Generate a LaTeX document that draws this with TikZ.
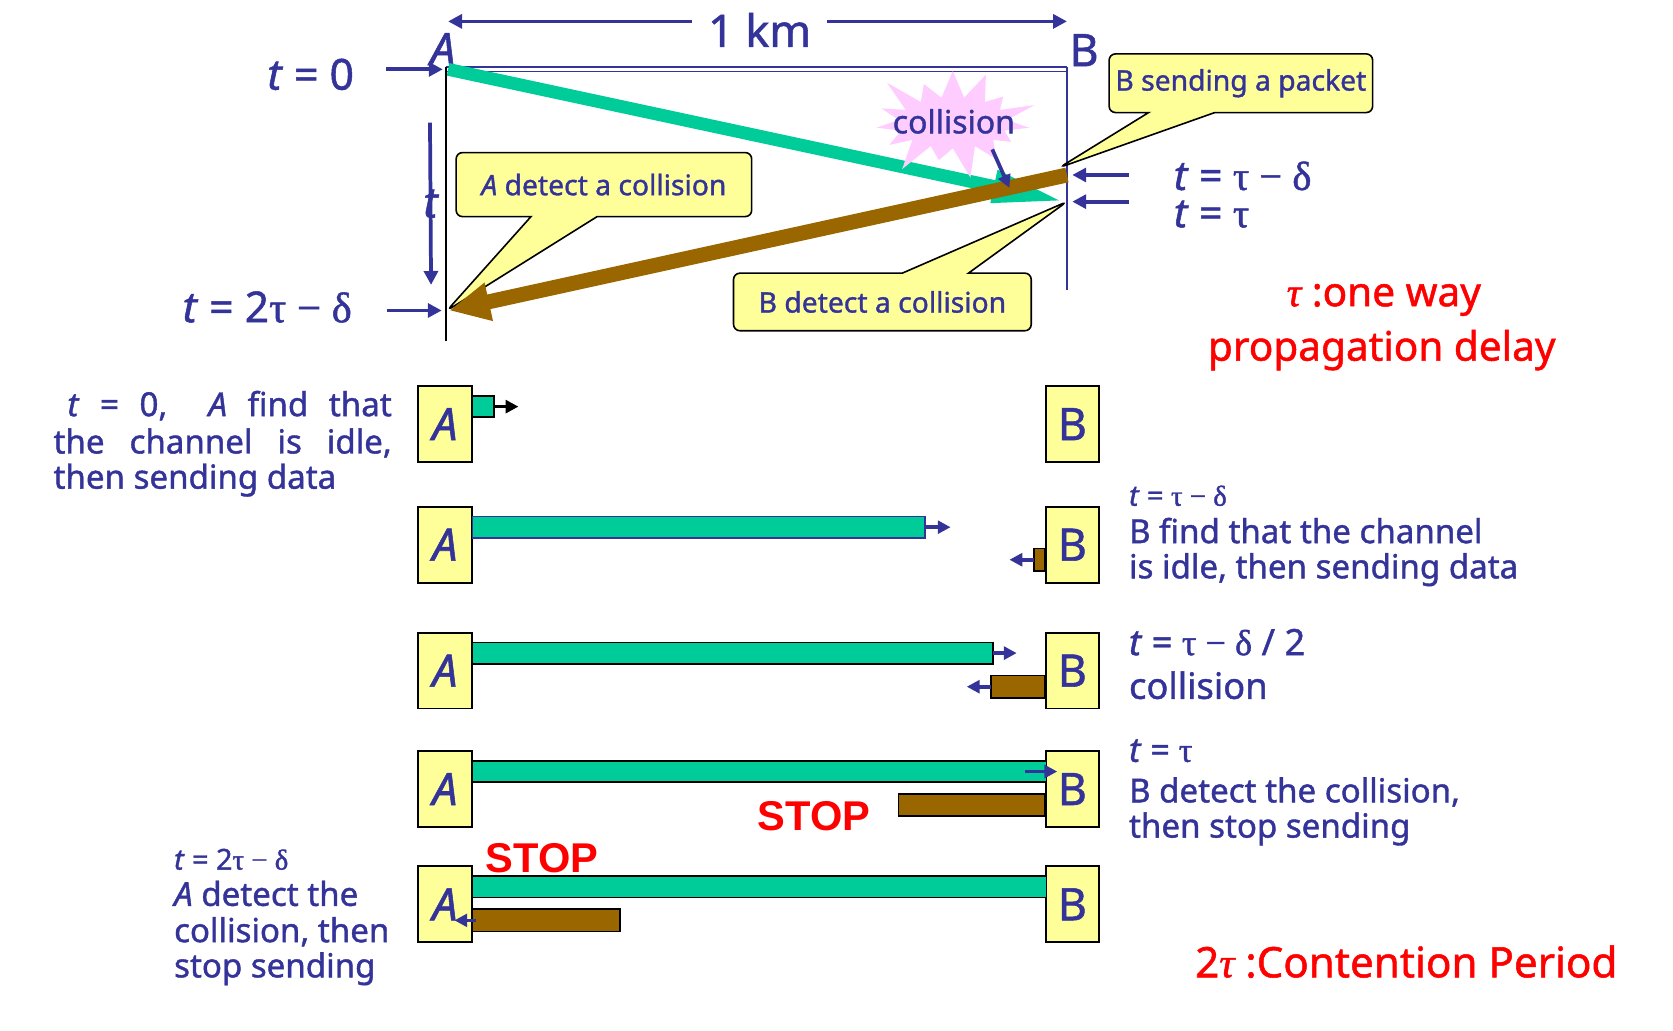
\documentclass[tikz,border=0pt]{standalone}
\usepackage{fontspec}
\setmainfont{Noto Sans}[FakeBold=1.2]
\newfontfamily\grk{Liberation Serif}[FakeBold=1.2]
\newfontfamily\stopf{Liberation Sans}
\usetikzlibrary{arrows.meta,shapes.callouts,shapes.symbols}

\definecolor{txtblue}{RGB}{51,51,153}
\definecolor{pktgreen}{RGB}{0,204,153}
\definecolor{pktbrown}{RGB}{153,102,0}
\definecolor{noteyellow}{RGB}{255,255,153}
\definecolor{burstpink}{RGB}{255,204,255}

\newcommand{\fsz}[1]{\fontsize{#1}{#1}\selectfont}

\tikzset{
  stn/.style={draw=black, fill=noteyellow, line width=1.8pt, minimum width=50pt, minimum height=71pt, inner sep=0pt, text=txtblue, font=\fsz{42}},
  gbar/.style={draw=black, fill=pktgreen, line width=1.6pt, inner sep=0pt, outer sep=0pt, minimum height=20pt, anchor=north west},
  bbar/.style={draw=black, fill=pktbrown, line width=1.6pt, inner sep=0pt, outer sep=0pt, minimum height=21pt},
  tarrow/.style={draw=txtblue, line width=3.5pt, -{Triangle[length=13pt,width=13pt]}},
  sarrow/.style={draw=txtblue, line width=3.5pt, -{Triangle[length=12pt,width=12pt]}},
  note/.style={rectangle callout, draw=black, fill=noteyellow, line width=1.5pt, rounded corners=6pt, text=txtblue, font=\fsz{26.5}, inner sep=0pt, callout pointer width=62pt},
  txt/.style={text=txtblue, font=\fsz{31}, inner sep=0pt, anchor=base west},
  big/.style={text=txtblue, font=\fsz{40}, inner sep=0pt},
  redtxt/.style={text=red, font=\fsz{38}, inner sep=0pt},
  stop/.style={text=red, font=\fsz{39}\stopf\bfseries, inner sep=0pt, anchor=base west}
}

\begin{document}
\begin{tikzpicture}[x=1pt,y=-1pt]
\useasboundingbox (0,0) rectangle (1568,966);

\coordinate (Atop) at (418,65);
\coordinate (Btop) at (1000,65);
\coordinate (Aend) at (418,320);
\coordinate (Bend) at (1000,272);
\coordinate (Bsend) at (1000,164);
\coordinate (Bhit) at (1000,189);
\coordinate (Ahit) at (419,291);

\path[draw,txtblue,line width=1.6pt] ([yshift=2pt]Atop) -- ([yshift=2pt]Btop);
\path[draw,txtblue,line width=0.8pt] ([yshift=-2pt]Atop) -- ([yshift=-2pt]Btop);
\path[draw,txtblue,line width=1.2pt] ([yshift=2pt]Btop) -- (Bend);
\path[draw,black,line width=1.5pt] ([yshift=2pt]Atop) -- (Aend);

\node[big, anchor=base, font=\fsz{42}\itshape] (sA) at (415,61) {A};
\node[big, anchor=base, font=\fsz{42}] (sB) at (1016,62) {B};
\node[big, anchor=base, font=\fsz{42}] (km) at (712,44) {1 km};
\coordinate (kmL) at ([xshift=-15pt,yshift=8pt]km.west);
\coordinate (kmR) at ([xshift=15pt,yshift=8pt]km.east);
\path[tarrow] (kmL) -- ([xshift=2pt]kmL -| Atop);
\path[tarrow] (kmR) -- (kmR -| Btop);

\node[big, anchor=base east] (tzero) at (332,84) {\textit{t} = 0};
\path[tarrow] ([xshift=-56pt]Atop) -- ([xshift=-3pt]Atop);
\node[big, anchor=base east] (tdet) at (330,302) {\textit{t} = 2{\grk τ − δ}};
\path[tarrow] ([xshift=-56pt]Ahit) -- ([xshift=-5pt]Ahit);
\path[tarrow] ([xshift=-15pt,yshift=-50pt]Atop) -- node[big, font=\fsz{40}\itshape] (tlab) {t} ([xshift=-15pt,yshift=24pt]Ahit);

\node[big, anchor=base west, font=\fsz{38}] (tsend) at (1100,178) {\textit{t} = {\grk τ − δ}};
\node[big, anchor=base west, font=\fsz{38}] (thit) at (1100,213) {\textit{t} = {\grk τ}};
\path[tarrow] ([xshift=58pt]Bsend) -- ([xshift=5pt]Bsend);
\path[tarrow] ([xshift=58pt]Bhit) -- ([xshift=5pt]Bhit);

\node[redtxt, anchor=base] (tau) at (1297,287) {{\grk\itshape τ} :one way};
\node[redtxt, anchor=base] (prop) at (1295,338) {propagation delay};

\path[draw, pktgreen, line width=12pt, -{Triangle[length=68pt,width=28pt]}] ([xshift=2pt]Atop) -- ([xshift=-2pt]Bhit);

\node[note, minimum width=277pt, minimum height=60pt, callout absolute pointer={(Ahit)}] (noteA) at (566,173) {\textit{A} detect a collision};
\node[note, minimum width=247pt, minimum height=55pt, callout absolute pointer={([xshift=-7pt,yshift=7pt]Bsend)}] (noteBs) at (1163,78) {B sending a packet};
\node[note, minimum width=279pt, minimum height=54pt, callout absolute pointer={(Bhit)}] (noteBd) at (827,283) {B detect a collision};

\path[draw, pktbrown, line width=14pt, -{Triangle[length=38pt,width=34pt]}] (Bsend) -- ([xshift=2pt]Ahit);

\node[starburst, fill=burstpink, draw=none, minimum width=170pt, minimum height=116pt, starburst points=15, starburst point height=34pt, inner sep=0pt] (burst) at (893,115) {};
\node[big, anchor=base, font=\fsz{30}] (colltxt) at (894,125) {collision};
\path[sarrow] ([xshift=37pt,yshift=-25pt]burst.center) -- ([xshift=-54pt,yshift=13pt]Bhit);

\node[stn] (a1) at (417,397.5) {\textit{A}};
\node[stn] (b1) at (1005,397.5) {B};
\node[stn] (a2) at (417,510.5) {\textit{A}};
\node[stn] (b2) at (1005,510.5) {B};
\node[stn] (a3) at (417,628.5) {\textit{A}};
\node[stn] (b3) at (1005,628.5) {B};
\node[stn] (a4) at (417,739.5) {\textit{A}};
\node[stn] (b4) at (1005,739.5) {B};
\node[stn] (a5) at (417,847.5) {\textit{A}};
\node[stn] (b5) at (1005,847.5) {B};

\node[gbar, minimum width=20pt] (g1) at ([yshift=-10pt]a1.north east) {};
\path[draw, black, line width=3.5pt, -{Triangle[length=12pt,width=12pt]}] (g1.east) -- ([xshift=23pt]g1.east);

\node[gbar, draw=txtblue, minimum width=424pt] (g2) at ([yshift=-10pt]a2.north east) {};
\path[sarrow] (g2.east) -- ([xshift=24pt]g2.east);
\node[bbar, anchor=north east, minimum width=10pt] (br2) at ([yshift=-40pt]b2.north west) {};
\path[sarrow] (br2.west) -- ([xshift=-23pt]br2.west);

\node[gbar, minimum width=488pt] (g3) at ([yshift=-10pt]a3.north east) {};
\path[sarrow] (g3.east) -- ([xshift=22pt]g3.east);
\node[bbar, anchor=north east, minimum width=50pt] (br3) at ([yshift=-41pt]b3.north west) {};
\path[sarrow] (br3.west) -- ([xshift=-23pt]br3.west);

\node[gbar, minimum width=538pt] (g4) at ([yshift=-10pt]a4.north east) {};
\node[bbar, anchor=north east, minimum width=137pt] (br4) at ([yshift=-41pt]b4.north west) {};
\path[sarrow] ([xshift=-20pt]g4.east) -- ([xshift=10pt]g4.east);
\node[stop] (stop4) at (710,778) {STOP};

\node[gbar, minimum width=538pt] (g5) at ([yshift=-10pt]a5.north east) {};
\node[bbar, anchor=north west, minimum width=138pt] (br5) at ([yshift=-41pt]a5.north east) {};
\path[sarrow] ([xshift=3pt]br5.west) -- ([xshift=-17pt]br5.west);
\node[stop] (stop5) at (455,818) {STOP};

\node[txt] (l1a) at (63,390) {\makebox[304pt][s]{\textit{t} = 0,\ \ \textit{A} find that}};
\node[txt] (l1b) at (50,425) {\makebox[317pt][s]{the channel is idle,}};
\node[txt] (l1c) at (50,458) {then sending data};

\node[txt, font=\fsz{27}] (l2a) at (163,815) {\textit{t} = 2{\grk τ − δ}};
\node[txt] (l2b) at (163,849) {\textit{A} detect the};
\node[txt] (l2c) at (163,883) {collision, then};
\node[txt] (l2d) at (163,916) {stop sending};

\node[txt, font=\fsz{27}] (rt1a) at (1058,474) {\textit{t} = {\grk τ − δ}};
\node[txt] (rt1b) at (1058,509) {B find that the channel};
\node[txt] (rt1c) at (1058,542) {is idle, then sending data};
\node[txt, font=\fsz{34}] (rt2a) at (1058,614) {\textit{t} = {\grk τ − δ} / 2};
\node[txt, font=\fsz{34}] (rt2b) at (1058,655) {collision};
\node[txt, font=\fsz{32}] (rt3a) at (1058,714) {\textit{t} = {\grk τ}};
\node[txt] (rt3b) at (1058,752) {B detect the collision,};
\node[txt] (rt3c) at (1058,785) {then stop sending};

\node[redtxt, anchor=base west, font=\fsz{39.5}] (cont) at (1120,916) {2{\grk\itshape τ} :Contention Period};
\end{tikzpicture}
\end{document}
